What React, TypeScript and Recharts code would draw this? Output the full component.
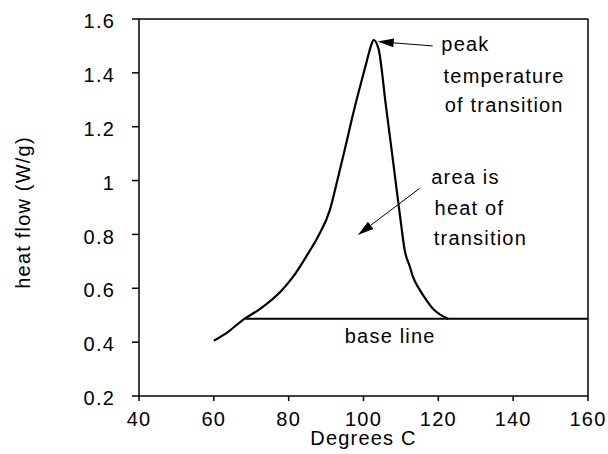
import { LineChart, Line, XAxis, YAxis, ReferenceLine, ReferenceDot } from "recharts";

// DSC trace
const curveTemp = [60, 64, 67.8, 72, 78, 81.2, 85, 88, 91, 93, 95, 97, 99, 101, 102, 102.7, 104, 106, 108, 110, 111, 112.4, 113.2, 115, 116.8, 118.5, 120.4, 122.6];
const curveFlow = [0.405, 0.44, 0.483, 0.52, 0.59, 0.643, 0.725, 0.796, 0.89, 1.0, 1.115, 1.235, 1.345, 1.45, 1.5, 1.522, 1.49, 1.277, 1.061, 0.843, 0.742, 0.68, 0.643, 0.595, 0.556, 0.525, 0.503, 0.487];

const baseTemp = [68.5, 160];
const baseFlow = [0.487, 0.487];

const xTicks = [40, 60, 80, 100, 120, 140, 160];
const yTicks = [0.2, 0.4, 0.6, 0.8, 1, 1.2, 1.4, 1.6];

const noteText = ["peak", "temperature", "of transition", "area is", "heat of", "transition", "base line"];
const noteTemp = [120.8, 121.4, 121.7, 118.1, 119.0, 118.8, 95.0];
const noteFlow = [1.481, 1.363, 1.256, 0.986, 0.872, 0.761, 0.397];

// arrows: [from, to] in data units
const arrowTemp = [[118.5, 103.8], [115.0, 98.5]];
const arrowFlow = [[1.5, 1.516], [0.971, 0.798]];

const curve = curveTemp.map((t, i) => ({ t, v: curveFlow[i] }));
const base = baseTemp.map((t, i) => ({ t, v: baseFlow[i] }));
const notes = noteText.map((text, i) => ({ text, t: noteTemp[i], v: noteFlow[i] }));

const font = { fontFamily: "'Liberation Sans', Arial, sans-serif", fontSize: 20, letterSpacing: 1.2, fill: "#000" };

const arrow = (p: any) => {
  const { x1, y1, x2, y2 } = p;
  const a = Math.atan2(y2 - y1, x2 - x1);
  const len = 16;
  const hw = 4.5;
  const bx = x2 - len * Math.cos(a);
  const by = y2 - len * Math.sin(a);
  const pts = [
    [x2, y2],
    [bx + hw * Math.sin(a), by - hw * Math.cos(a)],
    [bx - hw * Math.sin(a), by + hw * Math.cos(a)],
  ]
    .map((q) => q.join(","))
    .join(" ");
  return (
    <g>
      <line x1={x1} y1={y1} x2={bx} y2={by} stroke="#000" strokeWidth={1} />
      <polygon points={pts} fill="#000" />
    </g>
  );
};

const noteShape = (text: string) => (p: any) => (
  <text x={p.cx} y={p.cy} style={font}>
    {text}
  </text>
);

export default function App() {
  return (
    <div style={{ position: "absolute", left: 0, top: 0, background: "#fff" }}>
      <LineChart width={608} height={454} margin={{ top: 19, right: 20, bottom: 0, left: 0 }}>
        <XAxis
          type="number"
          dataKey="t"
          domain={[40, 160]}
          ticks={xTicks}
          allowDataOverflow
          height={58}
          tickSize={5}
          tickMargin={11}
          stroke="#000"
          strokeWidth={1.5}
          tick={font}
          label={{
            value: "Degrees C",
            content: (p: any) => {
              const vb = p.viewBox;
              return (
                <text x={vb.x + vb.width / 2} y={vb.y + 49} textAnchor="middle" style={font}>
                  Degrees C
                </text>
              );
            },
          }}
        />
        <YAxis
          type="number"
          domain={[0.2, 1.6]}
          ticks={yTicks}
          allowDataOverflow
          width={139}
          tickSize={7}
          tickMargin={17}
          stroke="#000"
          strokeWidth={1.5}
          tick={{ ...font, dy: 2 }}
          label={{
            value: "heat flow (W/g)",
            content: (p: any) => {
              const vb = p.viewBox;
              const cx = vb.x + 30;
              const cy = vb.y + vb.height / 2 + 5;
              return (
                <text x={cx} y={cy} textAnchor="middle" transform={`rotate(-90, ${cx}, ${cy})`} style={font}>
                  heat flow (W/g)
                </text>
              );
            },
          }}
        />
        <ReferenceLine y={1.6} stroke="#000" strokeWidth={1.5} />
        <ReferenceLine x={160} stroke="#000" strokeWidth={1.5} />
        <Line data={base} dataKey="v" type="linear" stroke="#000" strokeWidth={2} dot={false} isAnimationActive={false} />
        <Line data={curve} dataKey="v" type="monotone" stroke="#000" strokeWidth={2.2} dot={false} isAnimationActive={false} />
        {arrowTemp.map((tt, i) => (
          <ReferenceLine
            key={"a" + i}
            segment={[
              { x: tt[0], y: arrowFlow[i][0] },
              { x: tt[1], y: arrowFlow[i][1] },
            ]}
            shape={arrow}
          />
        ))}
        {notes.map((n) => (
          <ReferenceDot key={n.text} x={n.t} y={n.v} r={0} shape={noteShape(n.text)} />
        ))}
      </LineChart>
    </div>
  );
}
